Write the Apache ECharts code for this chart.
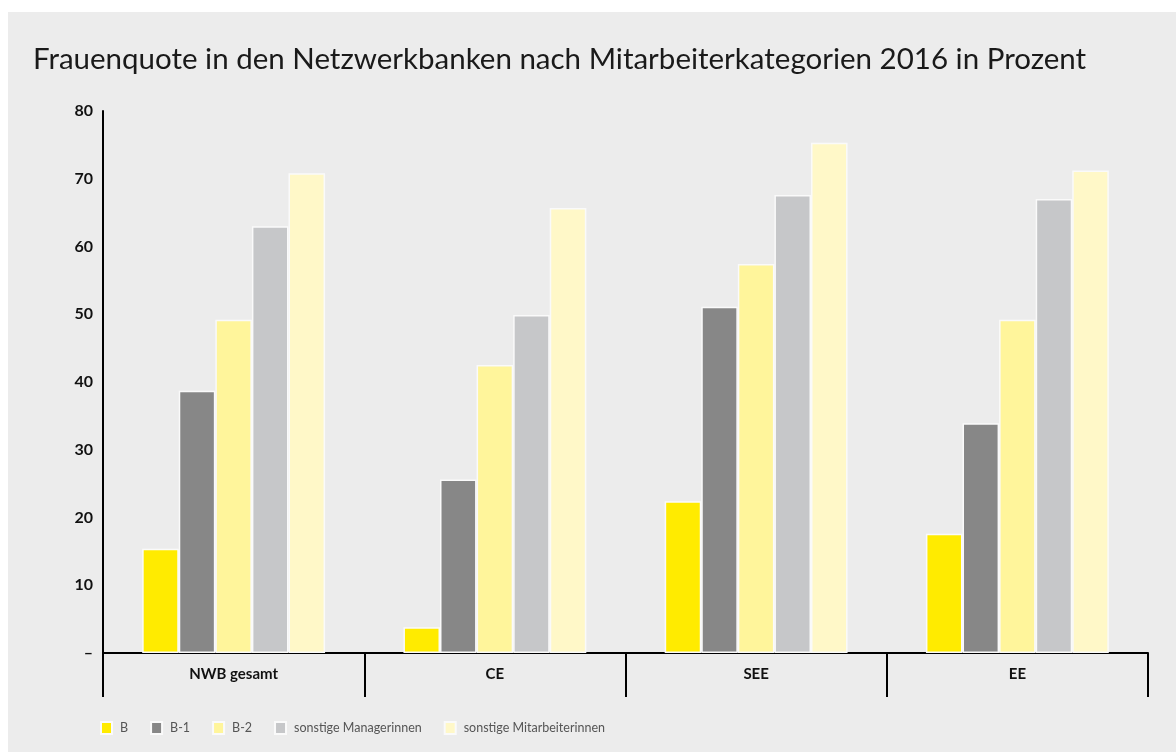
<!DOCTYPE html>
<html lang="de">
  <head>
    <meta charset="UTF-8" />
    <title>Frauenquote</title>
    <script src="https://cdn.jsdelivr.net/npm/echarts@6/dist/echarts.min.js"></script>
    <style>
      html, body { margin: 0; padding: 0; background: #ffffff; }
      #box { position: absolute; left: 8px; top: 12px; width: 1168px; height: 740px; }
    </style>
  </head>
  <body>
    <div id="box"></div>
    <script>
      // Daten
      var regionen = ["NWB gesamt", "CE", "SEE", "EE"];
      var kategorien = ["B", "B-1", "B-2", "sonstige Managerinnen", "sonstige Mitarbeiterinnen"];
      var farben = ["#ffeb00", "#878787", "#fff59b", "#c6c7c9", "#fff8c8"];
      var wertB = [15.4, 3.8, 22.4, 17.6];
      var wertB1 = [38.7, 25.6, 51.1, 33.9];
      var wertB2 = [49.2, 42.5, 57.4, 49.2];
      var wertManagerinnen = [63.0, 49.9, 67.6, 67.0];
      var wertMitarbeiterinnen = [70.8, 65.7, 75.3, 71.2];
      var werte = [wertB, wertB1, wertB2, wertManagerinnen, wertMitarbeiterinnen];

      var schrift = "Lato, 'Noto Sans', sans-serif";
      var myChart = echarts.init(document.getElementById("box"));

      var series = kategorien.map(function (name, i) {
        return {
          name: name,
          type: "bar",
          data: werte[i],
          barGap: "0%",
          barCategoryGap: "30%",
          itemStyle: { color: farben[i], borderColor: "#fafafa", borderWidth: 1.5 },
        };
      });

      var option = {
        backgroundColor: "#ececec",
        animation: false,
        title: {
          text: "Frauenquote in den Netzwerkbanken nach Mitarbeiterkategorien 2016 in Prozent",
          left: 20,
          top: 27,
          textStyle: { fontFamily: schrift, fontSize: 29.5, fontWeight: "normal", color: "#1a1a1a" },
        },
        legend: {
          left: 87,
          top: 704,
          icon: "rect",
          itemWidth: 11,
          itemHeight: 12,
          itemGap: 22,
          textStyle: { fontFamily: schrift, fontSize: 12.5, color: "#555", padding: [0, 0, 0, 3] },
          data: kategorien,
        },
        grid: { left: 95, right: 28, top: 99, bottom: 99 },
        xAxis: {
          type: "category",
          data: regionen,
          axisLine: { lineStyle: { color: "#000", width: 2 } },
          axisTick: { show: true, length: 44, lineStyle: { color: "#000", width: 2 } },
          axisLabel: { margin: 14, fontFamily: schrift, fontSize: 15, fontWeight: "bold", color: "#111" },
        },
        yAxis: {
          type: "value",
          min: 0,
          max: 80,
          interval: 10,
          splitLine: { show: false },
          axisLine: { show: true, lineStyle: { color: "#000", width: 2 } },
          axisTick: { show: false },
          axisLabel: {
            margin: 10,
            fontFamily: schrift,
            fontSize: 16,
            fontWeight: "bold",
            color: "#111",
            formatter: function (v) { return v === 0 ? "–" : v; },
          },
        },
        series: series,
      };
      myChart.setOption(option);
    </script>
  </body>
</html>
